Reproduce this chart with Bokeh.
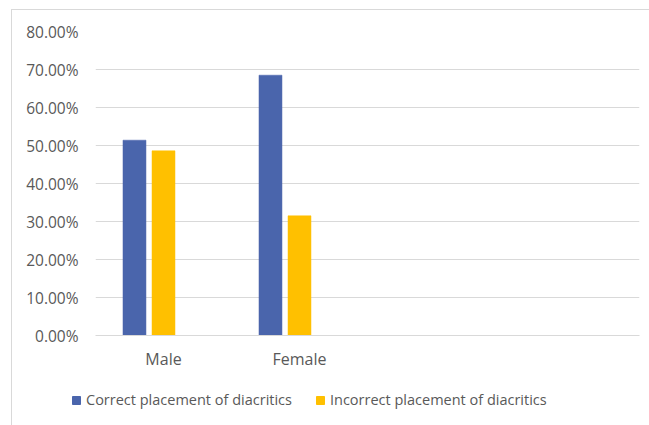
from bokeh.plotting import figure
from bokeh.layouts import column
from bokeh.models import (FactorRange, Range1d, NumeralTickFormatter, Legend, LegendItem,
                          ColumnDataSource, FixedTicker)
from bokeh.transform import dodge
from bokeh.embed import file_html
from bokeh.resources import INLINE

categories = ["Male", "Female", " ", "  "]
groups = ["Male", "Female"]
correct = [0.514, 0.685]
incorrect = [0.486, 0.315]
series_names = ["Correct placement of diacritics", "Incorrect placement of diacritics"]
colors = ["#4A65AC", "#FFC000"]
y_ticks = [0.0, 0.1, 0.2, 0.3, 0.4, 0.5, 0.6, 0.7, 0.8]

FONT = "Open Sans"
GRAY = "#595959"
GRID = "#d9d9d9"

src = ColumnDataSource(dict(g=groups, correct=correct, incorrect=incorrect))

p = figure(width=637, height=370, output_backend="svg", toolbar_location=None,
           x_range=FactorRange(*categories, range_padding=0),
           y_range=Range1d(0, 0.8),
           min_border_left=83, min_border_right=10, min_border_top=21, min_border_bottom=45)
p.frame_align = False
p.outline_line_color = None
p.background_fill_color = "white"
p.border_fill_color = "white"

r1 = p.vbar(x=dodge("g", -0.2134, range=p.x_range), top="correct", width=0.169, source=src,
            fill_color=colors[0], line_color=colors[0], line_width=0.5)
r2 = p.vbar(x=dodge("g", 0.0, range=p.x_range), top="incorrect", width=0.169, source=src,
            fill_color=colors[1], line_color=colors[1], line_width=0.5)

p.yaxis.ticker = FixedTicker(ticks=y_ticks)
p.yaxis.formatter = NumeralTickFormatter(format="0.00%")
for ax in (p.xaxis[0], p.yaxis[0]):
    ax.major_tick_line_color = None
    ax.minor_tick_line_color = None
    ax.major_tick_out = 0
    ax.major_tick_in = 0
    ax.minor_tick_out = 0
    ax.minor_tick_in = 0
    ax.major_label_text_font = FONT
    ax.major_label_text_color = GRAY
p.yaxis.major_label_text_font_size = "15.5px"
p.xaxis.major_label_text_font_size = "16px"
p.yaxis.axis_line_color = None
p.xaxis.axis_line_color = GRID
p.yaxis.major_label_standoff = 17
p.xaxis.major_label_standoff = 12
p.xgrid.grid_line_color = None
p.ygrid.grid_line_color = GRID
p.ygrid.grid_line_width = 1

# legend strip below the chart (its swatches reuse the series colours)
lf = figure(width=637, height=45, output_backend="svg", toolbar_location=None,
            x_range=Range1d(0, 1), y_range=Range1d(0, 1),
            min_border_left=0, min_border_right=0, min_border_top=0, min_border_bottom=0)
lf.frame_align = False
lf.axis.visible = False
lf.grid.visible = False
lf.outline_line_color = None
lf.background_fill_color = "white"
lf.border_fill_color = "white"
l1 = lf.vbar(x=[-10], top=[-10], width=0.1, fill_color=colors[0], line_color=colors[0])
l2 = lf.vbar(x=[-10], top=[-10], width=0.1, fill_color=colors[1], line_color=colors[1])
legend = Legend(items=[LegendItem(label=series_names[0], renderers=[l1]),
                       LegendItem(label=series_names[1], renderers=[l2])],
                orientation="horizontal", location=(59, 16),
                glyph_width=10, glyph_height=10, label_standoff=5, spacing=23,
                padding=0, margin=0, border_line_color=None, background_fill_alpha=0,
                label_text_font=FONT, label_text_font_size="14.5px", label_text_color=GRAY)
lf.add_layout(legend, "center")

layout = column(p, lf, margin=(9, 0, 0, 11), spacing=0,
                styles={"border-left": "1px solid #d9d9d9", "border-top": "1px solid #d9d9d9"})

open("out.html", "w").write(file_html(layout, INLINE))
